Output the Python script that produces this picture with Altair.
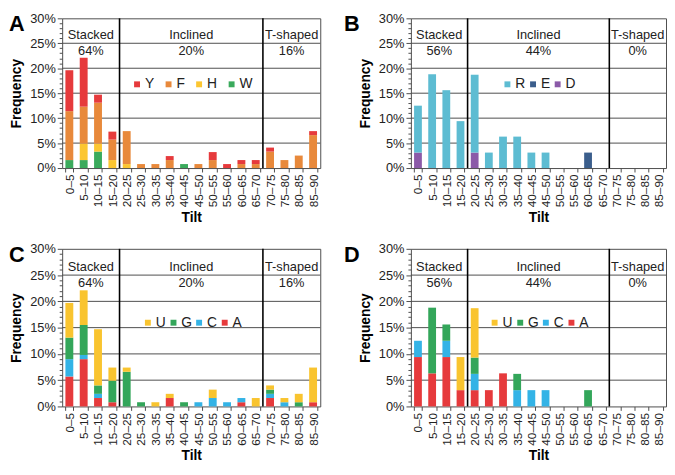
import altair as alt
import pandas as pd

tilts = ["0–5", "5–10", "10–15", "15–20", "20–25", "25–30", "30–35", "35–40", "40–45",
         "45–50", "50–55", "55–60", "60–65", "65–70", "70–75", "75–80", "80–85", "85–90"]

# Panel A (series listed bottom -> top of stack)
a_W = [1.6, 1.6, 3.3, 0, 0, 0, 0, 0, 0.8, 0, 0, 0, 0, 0, 0, 0, 0, 0]
a_H = [0, 3.3, 1.6, 1.6, 0.8, 0, 0, 0, 0, 0, 0, 0, 0, 0, 0, 0, 0, 0]
a_F = [9.8, 7.4, 8.2, 4.1, 6.6, 0.8, 0.8, 1.6, 0, 0.8, 1.6, 0, 0.8, 0.8, 3.3, 1.6, 2.5, 6.6]
a_Y = [8.2, 9.8, 1.6, 1.6, 0, 0, 0, 0.8, 0, 0, 1.6, 0.8, 0.8, 0.8, 0.8, 0, 0, 0.8]

# Panel B
b_D = [3.1, 0, 0, 0, 3.1, 0, 0, 0, 0, 0, 0, 0, 0, 0, 0, 0, 0, 0]
b_E = [0, 0, 0, 0, 0, 0, 0, 0, 0, 0, 0, 0, 3.1, 0, 0, 0, 0, 0]
b_R = [9.4, 18.8, 15.6, 9.4, 15.6, 3.1, 6.3, 6.3, 3.1, 3.1, 0, 0, 0, 0, 0, 0, 0, 0]

# Panel C
c_A = [5.7, 9.0, 1.6, 0.8, 0, 0, 0, 1.6, 0, 0, 0, 0, 0.8, 0, 1.6, 0, 0, 0.8]
c_C = [3.3, 0.8, 0.8, 0, 0, 0, 0, 0, 0, 0.8, 1.6, 0.8, 0.8, 0, 0.8, 0.8, 0, 0]
c_G = [4.1, 5.7, 1.6, 4.1, 6.6, 0.8, 0, 0, 0.8, 0, 0, 0, 0, 0, 0.8, 0, 0.8, 0]
c_U = [6.6, 6.6, 10.7, 2.5, 0.8, 0, 0.8, 0.8, 0, 0, 1.6, 0, 0, 1.6, 0.8, 0.8, 1.6, 6.6]

# Panel D
d_A = [9.4, 6.3, 9.4, 3.1, 3.1, 3.1, 6.3, 0, 0, 0, 0, 0, 0, 0, 0, 0, 0, 0]
d_C = [3.1, 0, 3.1, 0, 3.1, 0, 0, 3.1, 3.1, 3.1, 0, 0, 0, 0, 0, 0, 0, 0]
d_G = [0, 12.5, 3.1, 0, 3.1, 0, 0, 3.1, 0, 0, 0, 0, 3.1, 0, 0, 0, 0, 0]
d_U = [0, 0, 0, 6.3, 9.4, 0, 0, 0, 0, 0, 0, 0, 0, 0, 0, 0, 0, 0]

regions = ["Stacked", "Inclined", "T-shaped"]
region_mid = [10, 45, 80]
region_bounds = [20, 70]
pct_AC = ["64%", "20%", "16%"]
pct_BD = ["56%", "44%", "0%"]
grid_vals = [5, 10, 15, 20, 25]

FONT = "Liberation Sans"
GRID = "#4d4d4d"
TXT = "#222222"
MAJOR = "datum.value % 5 === 0"


def build_df(series):
    rows = []
    for k, (name, vals) in enumerate(series):
        for t, v in zip(tilts, vals):
            if v > 0:
                rows.append({"tilt": t, "series": name, "value": v, "ord": k})
    return pd.DataFrame(rows)


def y_axis():
    return alt.Axis(title="Frequency", values=list(range(0, 31)),
                    labelExpr="datum.value % 5 === 0 ? datum.value + '%' : ''",
                    grid=False,
                    tickSize={"condition": {"test": MAJOR, "value": 5}, "value": 3},
                    tickColor=GRID, domain=False, labelFontSize=13, labelColor=TXT,
                    labelPadding=2, labelOverlap=False, titleFontSize=14,
                    titleFontWeight="bold", titleColor="#000", titlePadding=6)


def panel(letter, series, colors, pcts, w, h, lx, ly, colpad, letter_x):
    names = [s[0] for s in series]
    dom = names[::-1]
    rng = colors[::-1]
    df = build_df(series)
    xs = alt.Scale(domain=tilts, paddingInner=0.45, paddingOuter=0.225)
    ys = alt.Scale(domain=[0, 30], nice=False)
    qx = alt.Scale(domain=[0, 90], nice=False, zero=False)

    grid = alt.Chart(pd.DataFrame({"g": grid_vals})).mark_rule(
        color=GRID, strokeWidth=1).encode(
        y=alt.Y("g:Q", scale=ys, title="Frequency", axis=y_axis()))

    bars = alt.Chart(df).mark_bar().encode(
        x=alt.X("tilt:N", sort=tilts, scale=xs,
                axis=alt.Axis(title="Tilt", labelAngle=-90, tickBand="extent", domain=False,
                              tickSize=4, tickColor=GRID, labelFontSize=12, labelColor=TXT,
                              labelPadding=2, titleFontSize=14, titleFontWeight="bold",
                              titleColor="#000", titlePadding=4, grid=False)),
        y=alt.Y("value:Q", stack="zero", scale=ys, title="Frequency", axis=y_axis()),
        color=alt.Color("series:N", scale=alt.Scale(domain=dom, range=rng),
                        legend=alt.Legend(orient="none", legendX=lx, legendY=ly,
                                          direction="horizontal", columns=len(dom), title=None,
                                          symbolType="square", symbolSize=36,
                                          symbolStrokeWidth=0, labelFontSize=14,
                                          labelColor=TXT, labelOffset=1,
                                          columnPadding=colpad, padding=0)),
        order=alt.Order("ord:Q", sort="ascending"),
    )

    rules = alt.Chart(pd.DataFrame({"b": region_bounds})).mark_rule(
        color="#000", strokeWidth=1.6).encode(
        x=alt.X("b:Q", scale=qx, axis=None))

    name_df = pd.DataFrame({"mid": region_mid, "txt": regions})
    pct_df = pd.DataFrame({"mid": region_mid, "txt": pcts})
    names_t = alt.Chart(name_df).mark_text(fontSize=13, color=TXT, dy=-8).encode(
        x=alt.X("mid:Q", scale=qx, axis=None),
        y=alt.YDatum(25, scale=ys, title="Frequency", axis=y_axis()), text="txt:N")
    pcts_t = alt.Chart(pct_df).mark_text(fontSize=13, color=TXT, dy=8).encode(
        x=alt.X("mid:Q", scale=qx, axis=None),
        y=alt.YDatum(25, scale=ys, title="Frequency", axis=y_axis()), text="txt:N")

    let = alt.Chart(pd.DataFrame({"t": [letter]})).mark_text(
        fontSize=22, fontWeight="bold", color="#000", align="center", baseline="middle").encode(
        text="t:N", x=alt.value(letter_x), y=alt.value(6))

    return alt.layer(grid, bars, rules, names_t, pcts_t, let).resolve_scale(
        x="independent").properties(width=w, height=h)


pA = panel("A", [("W", a_W), ("H", a_H), ("F", a_F), ("Y", a_Y)],
           ["#3aaa5c", "#fcc631", "#e8893b", "#e63a3c"], pct_AC, 262, 152, 69, 60, 7, -46)
pB = panel("B", [("D", b_D), ("E", b_E), ("R", b_R)],
           ["#8b5aa8", "#3b5e8c", "#5dbcd2"], pct_BD, 259, 152, 91, 60, 0, -60)
pC = panel("C", [("A", c_A), ("C", c_C), ("G", c_G), ("U", c_U)],
           ["#e63a3c", "#33b3e6", "#33a65a", "#f9c42f"], pct_AC, 262, 160, 80, 68, 0, -46)
pD = panel("D", [("A", d_A), ("C", d_C), ("G", d_G), ("U", d_U)],
           ["#e63a3c", "#33b3e6", "#33a65a", "#f9c42f"], pct_BD, 259, 160, 78, 68, 0, -60)

top = alt.hconcat(pA, pB, spacing=22).resolve_scale(x="independent", y="independent", color="independent")
bottom = alt.hconcat(pC, pD, spacing=22).resolve_scale(x="independent", y="independent", color="independent")

chart = alt.vconcat(top, bottom, spacing=17).resolve_scale(
    x="independent", y="independent", color="independent").properties(
    padding=0).configure(font=FONT).configure_view(stroke=GRID, strokeWidth=1)

chart.save("out.html", embed_options={"renderer": "svg", "actions": False})
